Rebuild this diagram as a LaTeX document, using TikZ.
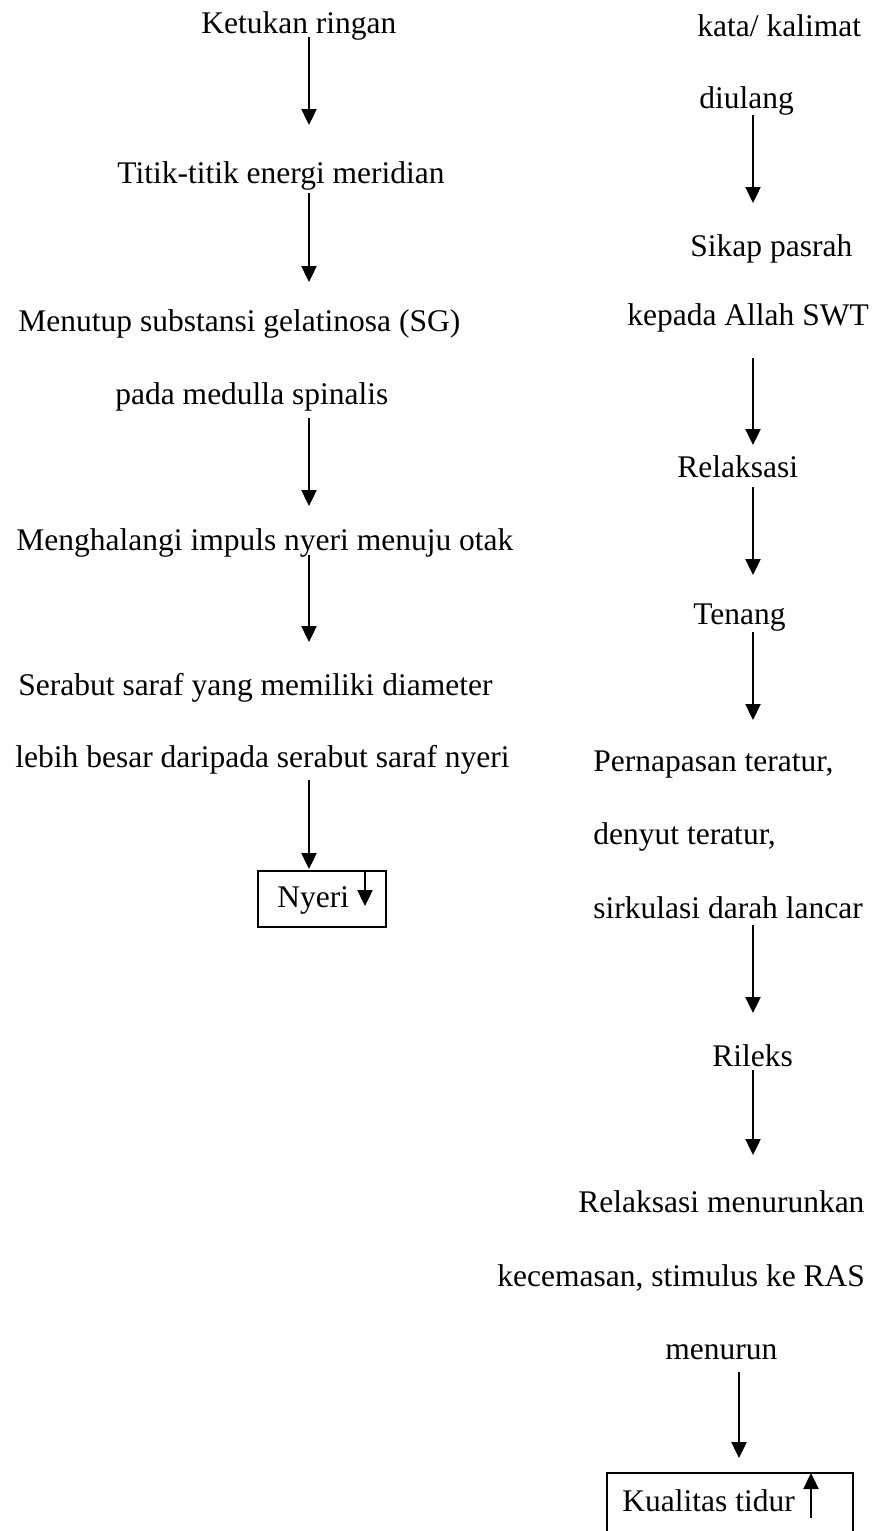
\documentclass[tikz,border=0pt]{standalone}
\usepackage{fontspec}
\setmainfont{Liberation Serif}
\usetikzlibrary{arrows.meta}
\begin{document}
\begin{tikzpicture}[x=0.5pt,y=-0.5pt,
  txt/.style={inner sep=0pt, anchor=base west, font=\fontsize{15.75}{18}\selectfont},
  arr/.style={line width=1.2pt, -{Triangle[length=8pt,width=7.5pt]}},
  boxline/.style={draw, line width=0.8pt, inner sep=0pt, anchor=north west}]
\useasboundingbox (0,0) rectangle (878,1531);
\clip (0,0) rectangle (878,1531);
\fill[white] (0,0) rectangle (878,1531);

% left column
\node[txt] (ketukan) at (201,33) {Ketukan ringan};
\node[txt] (titik) at (117,183) {Titik-titik energi meridian};
\node[txt] (menutup) at (18,331) {Menutup substansi gelatinosa (SG)};
\node[txt] (pada) at (115,404) {pada medulla spinalis};
\node[txt] (menghalangi) at (16,550) {Menghalangi impuls nyeri menuju otak};
\node[txt] (serabut) at (18,695) {Serabut saraf yang memiliki diameter};
\node[txt] (lebih) at (15,767) {lebih besar daripada serabut saraf nyeri};
\node[boxline, minimum width=64pt, minimum height=28pt] (nyeribox) at (257,870) {};
\node[txt] (nyeri) at (277,907) {Nyeri};

% right column
\node[txt] (kata) at (697,36) {kata/ kalimat};
\node[txt] (diulang) at (699,108) {diulang};
\node[txt] (sikap) at (690,256) {Sikap pasrah};
\node[txt] (kepada) at (627,325) {kepada Allah SWT};
\node[txt] (relaksasi) at (677,477) {Relaksasi};
\node[txt] (tenang) at (693,624) {Tenang};
\node[txt] (pernapasan) at (593,771) {Pernapasan teratur,};
\node[txt] (denyut) at (593,844) {denyut teratur,};
\node[txt] (sirkulasi) at (593,918) {sirkulasi darah lancar};
\node[txt] (rileks) at (712,1066) {Rileks};
\node[txt] (relmen) at (578,1212) {Relaksasi menurunkan};
\node[txt] (kecemasan) at (497,1286) {kecemasan, stimulus ke RAS};
\node[txt] (menurun) at (665,1359) {menurun};
\node[boxline, minimum width=123pt, minimum height=50pt] (kualitasbox) at (606,1472) {};
\node[txt] (kualitas) at (622,1511) {Kualitas tidur};

% arrow end points
\coordinate (l1s) at (309,37);   \coordinate (l1e) at (309,125);
\coordinate (l2s) at (309,193);  \coordinate (l2e) at (309,282);
\coordinate (l3s) at (309,418);  \coordinate (l3e) at (309,506);
\coordinate (l4s) at (309,555);  \coordinate (l4e) at (309,642);
\coordinate (l5s) at (309,780);  \coordinate (l5e) at (309,869);
\coordinate (n1s) at (365,870);  \coordinate (n1e) at (365,906);
\coordinate (r1s) at (753,115);  \coordinate (r1e) at (753,203);
\coordinate (r2s) at (753,358);  \coordinate (r2e) at (753,445);
\coordinate (r3s) at (753,487);  \coordinate (r3e) at (753,575);
\coordinate (r4s) at (753,632);  \coordinate (r4e) at (753,720);
\coordinate (r5s) at (753,925);  \coordinate (r5e) at (753,1013);
\coordinate (r6s) at (753,1070); \coordinate (r6e) at (753,1155);
\coordinate (r7s) at (739,1372); \coordinate (r7e) at (739,1458);
\coordinate (k1s) at (811,1518); \coordinate (k1e) at (811,1473);

\foreach \a in {l1,l2,l3,l4,l5,n1,r1,r2,r3,r4,r5,r6,r7,k1}
  \draw[arr] (\a s) -- (\a e);
\end{tikzpicture}
\end{document}
